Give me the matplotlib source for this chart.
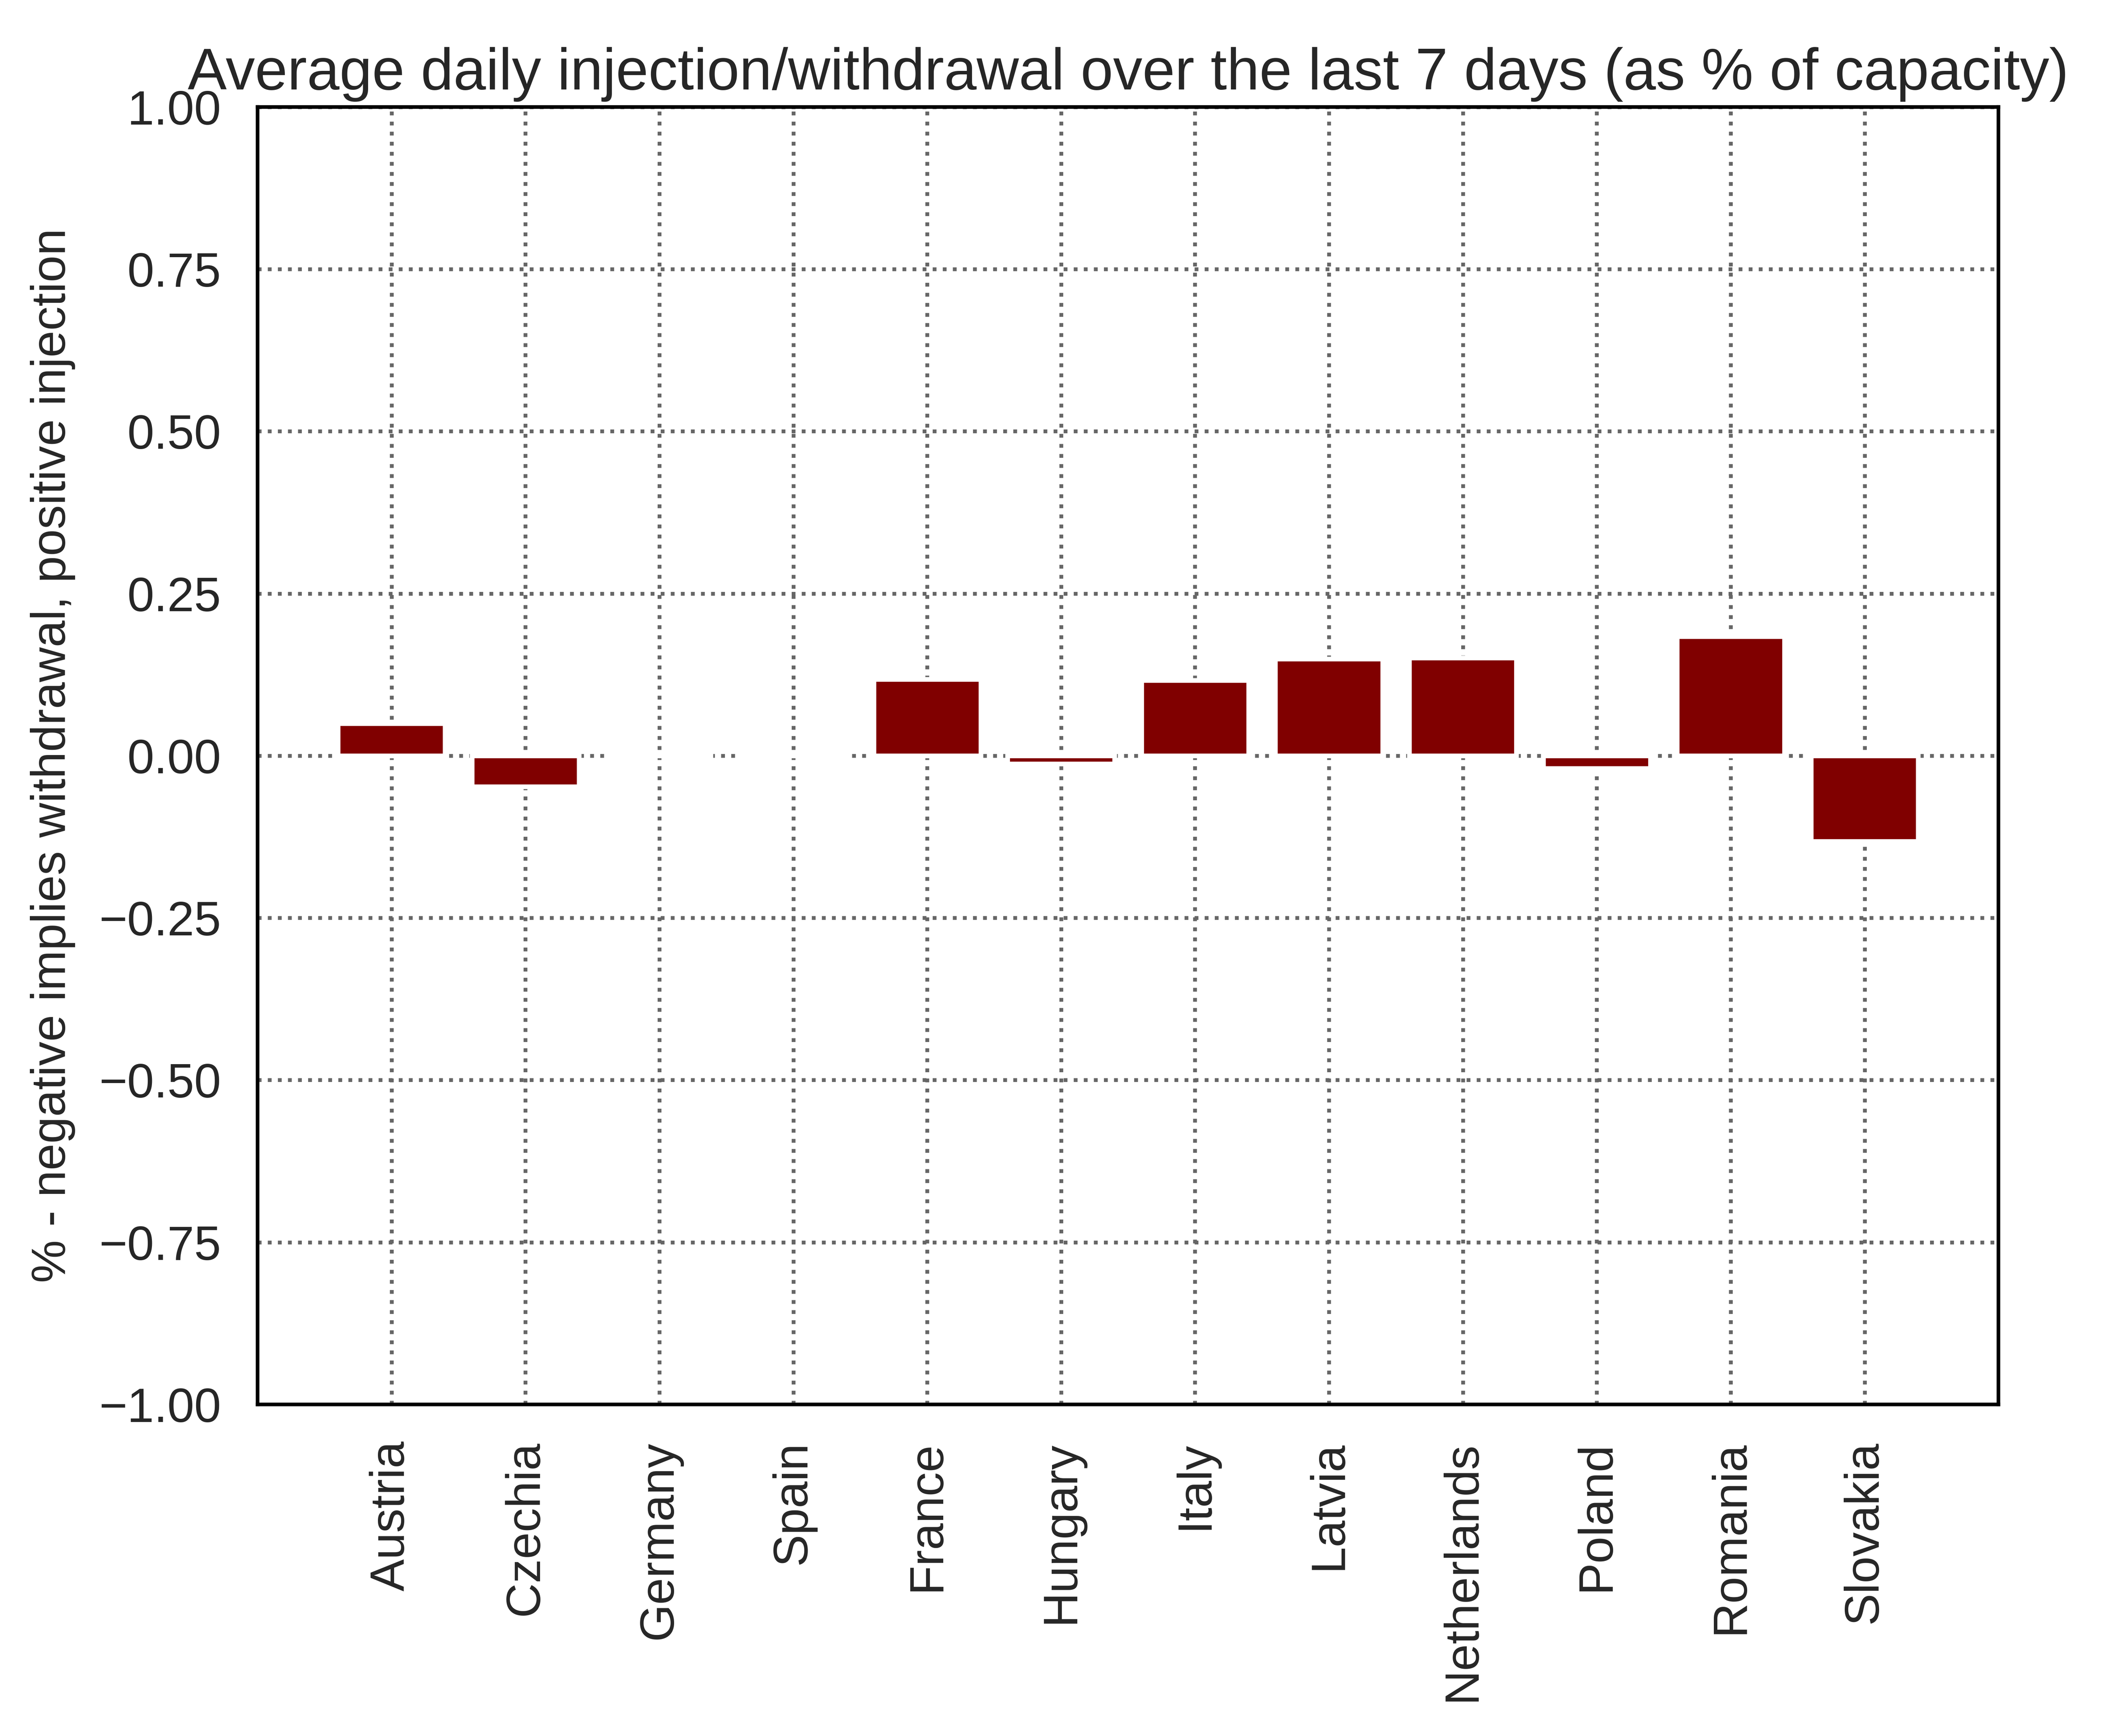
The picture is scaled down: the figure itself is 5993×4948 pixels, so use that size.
import matplotlib
matplotlib.use("Agg")
import matplotlib.pyplot as plt
import seaborn as sns
import numpy as np

countries = ["Austria", "Czechia", "Germany", "Spain", "France", "Hungary",
             "Italy", "Latvia", "Netherlands", "Poland", "Romania", "Slovakia"]
values = [0.0498, -0.0478, 0.0, 0.0, 0.118, -0.0127,
          0.116, 0.149, 0.151, -0.0195, 0.184, -0.132]
yticks = [-1.00, -0.75, -0.50, -0.25, 0.00, 0.25, 0.50, 0.75, 1.00]

sns.set_theme(style="white")
plt.rcParams['font.family'] = ['Liberation Sans', 'DejaVu Sans']
plt.rcParams['text.color'] = '#262626'
plt.rcParams['axes.labelcolor'] = '#262626'
plt.rcParams['xtick.color'] = '#262626'
plt.rcParams['ytick.color'] = '#262626'

fig = plt.figure(figsize=(5993/600, 4948/600), dpi=600)
ax = fig.add_axes([0.1225, 0.191, 0.9503-0.1225, 0.9384-0.191])

x = np.arange(len(countries))
ax.bar(x, values, width=0.8, color='#800000', edgecolor='white', linewidth=1.6, zorder=3)

ax.set_xlim(-1, 12)
ax.set_ylim(-1, 1)
ax.set_xticks(x)
ax.set_xticklabels(countries, rotation=90, fontsize=16.5)
ax.set_yticks(yticks)
ax.set_yticklabels([f"{v:.2f}".replace('-', '\u2212') for v in yticks], fontsize=16.5)
ax.tick_params(axis='both', length=0, pad=12.5)

ax.grid(True, linestyle=':', color='0.4', linewidth=1.3, zorder=0)
ax.set_axisbelow(True)
for s in ax.spines.values():
    s.set_color('black')
    s.set_linewidth(1.25)

ax.set_title("Average daily injection/withdrawal over the last 7 days (as % of capacity)", fontsize=20)
ax.set_ylabel("% - negative implies withdrawal, positive injection", fontsize=16.5, labelpad=8)

fig.savefig("out.png", dpi=600)
